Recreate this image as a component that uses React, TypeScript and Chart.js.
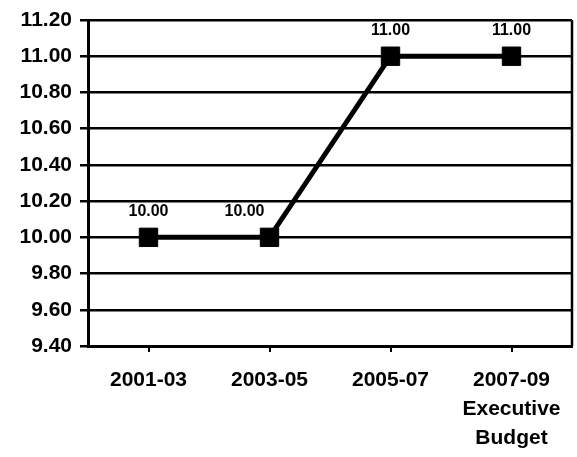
import React, { useEffect, useRef } from "react";
import { Chart, registerables } from "chart.js";

Chart.register(...registerables);

const categories: (string | string[])[] = ["2001-03", "2003-05", "2005-07", ["2007-09", "Executive", "Budget"]];
const values: number[] = [10.0, 10.0, 11.0, 11.0];
const yMin = 9.4;
const yMax = 11.2;
const yStep = 0.2;

const FONT = "'Liberation Sans', Arial, Helvetica, sans-serif";
const labelShiftX = [0, -25, 0, 0];

const extrasPlugin = {
  id: "extras",
  afterDatasetsDraw(chart: any) {
    const ctx = chart.ctx;
    const area = chart.chartArea;
    ctx.save();
    ctx.strokeStyle = "#000";
    ctx.lineWidth = 2.5;
    ctx.beginPath();
    ctx.moveTo(area.right, area.top);
    ctx.lineTo(area.right, area.bottom);
    ctx.stroke();
    const meta = chart.getDatasetMeta(0);
    ctx.fillStyle = "#000";
    ctx.font = `bold 16px ${FONT}`;
    ctx.textAlign = "center";
    ctx.textBaseline = "middle";
    meta.data.forEach((pt: any, i: number) => {
      ctx.fillText(values[i].toFixed(2), pt.x + labelShiftX[i], pt.y - 26);
    });
    ctx.restore();
  },
};

export default function App() {
  const ref = useRef<HTMLCanvasElement | null>(null);
  useEffect(() => {
    if (!ref.current) return;
    const chart = new Chart(ref.current, {
      type: "line",
      data: {
        labels: categories as any,
        datasets: [
          {
            data: values,
            borderColor: "#000",
            borderWidth: 5,
            backgroundColor: "#000",
            pointStyle: "rect",
            pointRadius: 13,
            pointBorderWidth: 1,
            pointBorderColor: "#000",
            pointBackgroundColor: "#000",
            tension: 0,
            clip: false as any,
          },
        ],
      },
      options: {
        animation: false,
        responsive: false,
        maintainAspectRatio: false,
        layout: { autoPadding: false, padding: { top: 20, right: 5, left: 0, bottom: 0 } },
        plugins: { legend: { display: false }, tooltip: { enabled: false } },
        scales: {
          x: {
            offset: true,
            grid: { display: true, drawOnChartArea: false, drawTicks: true, tickLength: 6, color: "#000", lineWidth: 2 },
            border: { display: true, color: "#000", width: 3 },
            ticks: {
              color: "#000",
              font: { family: FONT, size: 21, weight: "bold", lineHeight: 1.38 },
              padding: 14,
              maxRotation: 0,
              autoSkip: false,
            },
            afterFit: (s: any) => {
              s.height = 111;
              s.paddingLeft = 0;
              s.paddingRight = 0;
            },
          },
          y: {
            min: yMin,
            max: yMax,
            grid: { color: "#000", lineWidth: 2.5, drawTicks: true, tickLength: 8 },
            border: { display: true, color: "#000", width: 3 },
            ticks: {
              stepSize: yStep,
              color: "#000",
              padding: 8,
              font: { family: FONT, size: 21, weight: "bold" },
              callback: (v: any) => Number(v).toFixed(2),
            },
            afterFit: (s: any) => {
              s.width = 88;
              s.paddingTop = 0;
              s.paddingBottom = 0;
            },
          },
        },
      },
      plugins: [extrasPlugin],
    });
    return () => chart.destroy();
  }, []);
  return (
    <div style={{ position: "fixed", left: 0, top: 0, width: 577, height: 457, background: "#fff" }}>
      <canvas ref={ref} width={577} height={457} style={{ display: "block" }} />
    </div>
  );
}
